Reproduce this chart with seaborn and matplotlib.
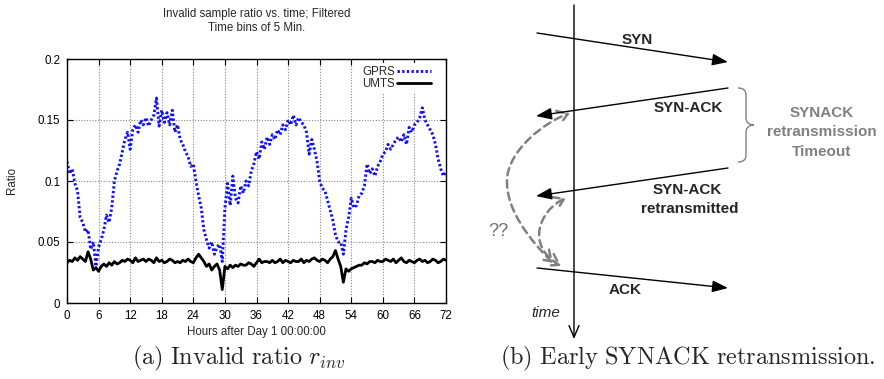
import numpy as np
import pandas as pd
import seaborn as sns
import matplotlib
matplotlib.use("Agg")
import matplotlib.pyplot as plt
from matplotlib.path import Path
from matplotlib.patches import PathPatch, FancyArrowPatch

# ---------------------------------------------------------------- data
hours = [h * 0.5 for h in range(145)]

gprs = [
    0.116, 0.106, 0.110, 0.098, 0.092, 0.070, 0.066, 0.058, 0.060, 0.044,
    0.050, 0.030, 0.046, 0.052, 0.060, 0.072, 0.066, 0.078, 0.100, 0.108,
    0.114, 0.124, 0.134, 0.140, 0.126, 0.142, 0.146, 0.140, 0.150, 0.146,
    0.152, 0.145, 0.150, 0.154, 0.168, 0.145, 0.158, 0.148, 0.156, 0.146,
    0.158, 0.140, 0.146, 0.134, 0.130, 0.124, 0.120, 0.112, 0.114, 0.100,
    0.088, 0.078, 0.060, 0.052, 0.045, 0.050, 0.040, 0.046, 0.048, 0.034,
    0.078, 0.098, 0.080, 0.104, 0.086, 0.082, 0.096, 0.090, 0.100, 0.096,
    0.108, 0.114, 0.124, 0.118, 0.132, 0.126, 0.136, 0.130, 0.138, 0.134,
    0.142, 0.138, 0.146, 0.142, 0.150, 0.146, 0.154, 0.146, 0.152, 0.148,
    0.146, 0.140, 0.122, 0.134, 0.126, 0.116, 0.100, 0.094, 0.092, 0.084,
    0.076, 0.068, 0.056, 0.050, 0.050, 0.040, 0.060, 0.070, 0.086, 0.078,
    0.080, 0.088, 0.090, 0.096, 0.114, 0.106, 0.110, 0.104, 0.112, 0.116,
    0.122, 0.124, 0.130, 0.126, 0.130, 0.134, 0.136, 0.132, 0.138, 0.130,
    0.144, 0.140, 0.146, 0.148, 0.152, 0.160, 0.150, 0.146, 0.142, 0.138,
    0.130, 0.118, 0.110, 0.104, 0.108,
]

umts = [
    0.033, 0.035, 0.034, 0.037, 0.035, 0.038, 0.036, 0.034, 0.042, 0.036,
    0.027, 0.029, 0.026, 0.030, 0.032, 0.030, 0.033, 0.031, 0.034, 0.032,
    0.033, 0.035, 0.034, 0.036, 0.035, 0.033, 0.037, 0.034, 0.035, 0.036,
    0.034, 0.036, 0.035, 0.033, 0.037, 0.034, 0.035, 0.033, 0.034, 0.036,
    0.035, 0.033, 0.034, 0.033, 0.035, 0.034, 0.036, 0.034, 0.033, 0.037,
    0.040, 0.037, 0.034, 0.030, 0.032, 0.027, 0.030, 0.032, 0.027, 0.011,
    0.030, 0.028, 0.031, 0.029, 0.031, 0.030, 0.032, 0.031, 0.031, 0.033,
    0.032, 0.030, 0.033, 0.036, 0.033, 0.034, 0.034, 0.033, 0.035, 0.033,
    0.034, 0.036, 0.033, 0.035, 0.034, 0.033, 0.035, 0.034, 0.034, 0.036,
    0.033, 0.035, 0.034, 0.036, 0.037, 0.035, 0.034, 0.036, 0.035, 0.033,
    0.036, 0.038, 0.043, 0.036, 0.030, 0.017, 0.028, 0.026, 0.028, 0.029,
    0.030, 0.031, 0.031, 0.033, 0.032, 0.034, 0.034, 0.033, 0.035, 0.034,
    0.034, 0.036, 0.035, 0.034, 0.036, 0.033, 0.035, 0.037, 0.034, 0.033,
    0.035, 0.034, 0.033, 0.035, 0.036, 0.034, 0.035, 0.033, 0.034, 0.036,
    0.035, 0.033, 0.034, 0.036, 0.035,
]

x_ticks = [0, 6, 12, 18, 24, 30, 36, 42, 48, 54, 60, 66, 72]
y_ticks = [0, 0.05, 0.1, 0.15, 0.2]
y_tick_labels = ["0", "0.05", "0.1", "0.15", "0.2"]

messages = ["SYN", "SYN-ACK", "SYN-ACK", "ACK"]
timeout_label = ["SYNACK", "retransmission", "Timeout"]

# ---------------------------------------------------------------- style
sns.set_theme(style="white")
plt.rcParams["font.family"] = ["Liberation Sans", "DejaVu Sans"]
plt.rcParams["mathtext.fontset"] = "cm"

W, H = 884, 379
fig = plt.figure(figsize=(W / 100, H / 100), dpi=100)

def fx(px):
    return px / W

def fy(py):
    return 1 - py / H

# ---------------------------------------------------------------- left chart
ax = fig.add_axes([fx(67), fy(303), (446 - 67) / W, (303 - 59) / H])

df = pd.DataFrame({"hours": hours * 2,
                   "ratio": gprs + umts,
                   "net": ["GPRS"] * len(gprs) + ["UMTS"] * len(umts)})

sns.lineplot(data=df[df.net == "GPRS"], x="hours", y="ratio", ax=ax,
             color="#1010ff", lw=2.1, linestyle=(0, (0.8, 0.8)), label="GPRS")
sns.lineplot(data=df[df.net == "UMTS"], x="hours", y="ratio", ax=ax,
             color="black", lw=2.0, label="UMTS")

ax.set_xlim(0, 72)
ax.set_ylim(0, 0.2)
ax.set_xticks(x_ticks)
ax.set_yticks(y_ticks)
ax.set_yticklabels(y_tick_labels)
ax.tick_params(direction="in", length=4, width=0.8, labelsize=8.3,
               top=True, right=True, bottom=True, left=True, pad=5,
               colors="black")
ax.grid(True, color="#888888", lw=0.8, linestyle=(0, (1, 1.5)))
for s in ax.spines.values():
    s.set_color("black")
    s.set_linewidth(1.0)

ax.set_xlabel("Hours after Day 1 00:00:00", fontsize=8.3)
ax.set_ylabel("Ratio", fontsize=8.3)
ax.xaxis.label.set_va("center")
ax.yaxis.label.set_va("center")
ax.xaxis.set_label_coords(0.5, (303 - 332) / 244)
ax.yaxis.set_label_coords((12 - 67) / 379, 0.5)

fig.text(fx(257), fy(14), "Invalid sample ratio vs. time; Filtered",
         ha="center", va="center", fontsize=8.3)
fig.text(fx(257), fy(28), "Time bins of 5 Min.",
         ha="center", va="center", fontsize=8.3)

leg = ax.legend(loc="upper right", bbox_to_anchor=(0.967, 0.985),
                frameon=True, facecolor="white", edgecolor="none",
                framealpha=1.0, fancybox=False, markerfirst=False,
                fontsize=8.3, handlelength=2.9, handletextpad=0.2,
                labelspacing=0.05, borderpad=0.25, borderaxespad=0)

# ---------------------------------------------------------------- right diagram
dax = fig.add_axes([fx(460), 0, (W - 460) / W, 1])
dax.set_xlim(460, W)
dax.set_ylim(H, 0)
dax.axis("off")

# time axis
dax.annotate("", xy=(574, 339), xytext=(574, 5),
             arrowprops=dict(arrowstyle="->,head_length=0.7,head_width=0.3",
                             lw=1.0, color="black", mutation_scale=12,
                             shrinkA=0, shrinkB=0))

solid = dict(arrowstyle="-|>,head_length=0.8,head_width=0.3", lw=1.0,
             color="black", mutation_scale=12, shrinkA=0, shrinkB=0)
dax.annotate("", xy=(728, 62), xytext=(537, 33), arrowprops=solid)
dax.annotate("", xy=(536, 116), xytext=(728, 88), arrowprops=solid)
dax.annotate("", xy=(536, 196), xytext=(728, 168), arrowprops=solid)
dax.annotate("", xy=(728, 288), xytext=(537, 268), arrowprops=solid)

bold = dict(fontsize=11, fontweight="bold", ha="center", va="center")
dax.text(637, 40, messages[0], **bold)
dax.text(688, 108, messages[1], **bold)
dax.text(687, 190, messages[2], **bold)
dax.text(690, 209, "retransmitted", **bold)
dax.text(625, 290, messages[3], **bold)
dax.text(546, 313, "time", fontsize=11, style="italic", ha="center", va="center")
dax.text(498, 232, "??", fontsize=13, color="#707070", ha="center", va="center")

grey = "#808080"
for i, t in enumerate(timeout_label):
    dax.text(822, 113 + 19.5 * i, t, fontsize=11, fontweight="bold",
             color=grey, ha="center", va="center")

# curly brace spanning the retransmission timeout
brace = Path(
    [(738, 88), (743, 88), (746, 90), (746, 95),
     (746, 118),
     (746, 122), (749, 125), (754, 125),
     (749, 125), (746, 128), (746, 132),
     (746, 155),
     (746, 160), (743, 162), (738, 162)],
    [Path.MOVETO, Path.CURVE4, Path.CURVE4, Path.CURVE4,
     Path.LINETO,
     Path.CURVE4, Path.CURVE4, Path.CURVE4,
     Path.CURVE4, Path.CURVE4, Path.CURVE4,
     Path.LINETO,
     Path.CURVE4, Path.CURVE4, Path.CURVE4])
dax.add_patch(PathPatch(brace, fill=False, edgecolor=grey, lw=1.0))

# dashed curved arrows between ACK and the SYN-ACKs
big = Path([(553, 263), (530, 240), (506, 210), (507, 180),
            (508, 150), (545, 122), (570, 113)],
           [Path.MOVETO, Path.CURVE4, Path.CURVE4, Path.CURVE4,
            Path.CURVE4, Path.CURVE4, Path.CURVE4])
small = Path([(561, 266), (525, 245), (540, 210), (566, 198)],
             [Path.MOVETO, Path.CURVE4, Path.CURVE4, Path.CURVE4])
for p in (big, small):
    dax.add_patch(FancyArrowPatch(path=p,
                                  arrowstyle="<->,head_length=0.6,head_width=0.4",
                                  mutation_scale=12, color=grey, lw=1.8,
                                  linestyle=(0, (3, 2))))

# ---------------------------------------------------------------- captions
fig.text(fx(239), fy(358), r"$\mathrm{(a)\ Invalid\ ratio}\ r_{inv}$",
         ha="center", va="center", fontsize=17.5)
fig.text(fx(688), fy(358), r"$\mathrm{(b)\ Early\ SYNACK\ retransmission.}$",
         ha="center", va="center", fontsize=17.5)

fig.savefig("out.png", dpi=100)
